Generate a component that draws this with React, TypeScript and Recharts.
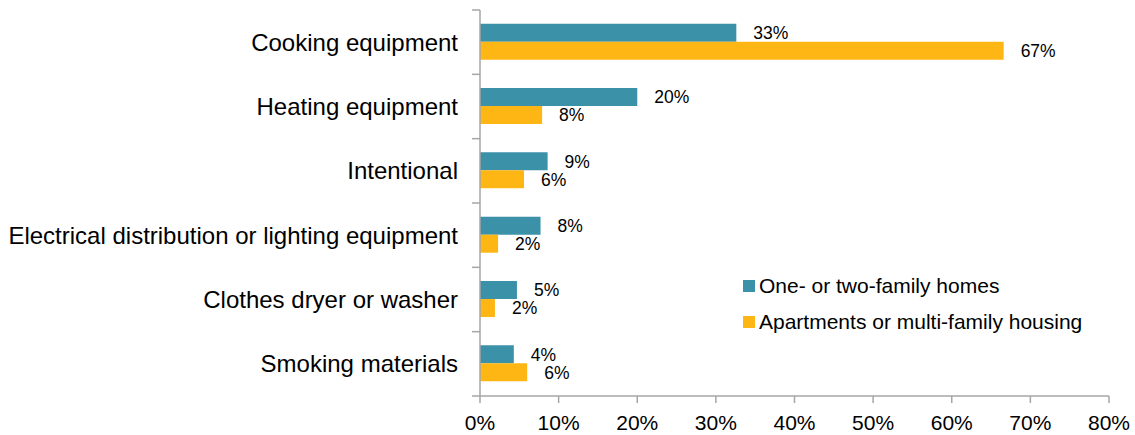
import React from 'react';
import { BarChart, Bar, XAxis, YAxis, Legend, LabelList } from 'recharts';

const categories = [
  'Cooking equipment',
  'Heating equipment',
  'Intentional',
  'Electrical distribution or lighting equipment',
  'Clothes dryer or washer',
  'Smoking materials',
];
const oneTwoFamily = [32.6, 20.0, 8.6, 7.7, 4.7, 4.3];
const apartments = [66.6, 7.9, 5.6, 2.3, 1.9, 6.0];
const xTicks = [0, 10, 20, 30, 40, 50, 60, 70, 80];

const TEAL = '#3b91a7';
const ORANGE = '#fdb614';
const AXIS = '#a6a6a6';
const FONT = '"Liberation Sans", Arial, sans-serif';

const WIDTH = 1135;
const HEIGHT = 435;
const MARGIN = { top: 10, right: 26, bottom: 9, left: 0 };
const X_AXIS_H = 30;
const Y_AXIS_W = 480;
const BAND = (HEIGHT - MARGIN.top - MARGIN.bottom - X_AXIS_H) / categories.length;
const TICK_GAP = 22;

const data = categories.map((name, i) => ({
  name,
  homes: oneTwoFamily[i],
  apartments: apartments[i],
}));

const series = [
  { key: 'homes', label: 'One- or two-family homes', color: TEAL },
  { key: 'apartments', label: 'Apartments or multi-family housing', color: ORANGE },
];

// category label at the band centre, tick marks at the band edges
const CategoryTick = (props: any) => {
  const { x, y, payload, index } = props;
  const ax = x + TICK_GAP;
  return (
    <g>
      <text x={x} y={y} dy="0.36em" textAnchor="end" fontSize={24} fill="#000" fontFamily={FONT}>
        {payload.value}
      </text>
      <line x1={ax - 8} x2={ax} y1={y - BAND / 2} y2={y - BAND / 2} stroke={AXIS} strokeWidth={1.5} />
      {index === categories.length - 1 && (
        <line x1={ax - 8} x2={ax} y1={y + BAND / 2} y2={y + BAND / 2} stroke={AXIS} strokeWidth={1.5} />
      )}
    </g>
  );
};

const LegendBox = () => (
  <div style={{ fontFamily: FONT, fontSize: 21, color: '#000' }}>
    {series.map((s) => (
      <div key={s.key} style={{ display: 'flex', alignItems: 'center', height: 36 }}>
        <div style={{ width: 12, height: 12, background: s.color, marginRight: 4 }} />
        <span>{s.label}</span>
      </div>
    ))}
  </div>
);

export default function App() {
  return (
    <div style={{ position: 'absolute', left: 0, top: 0, width: WIDTH, height: HEIGHT, background: '#fff' }}>
      <BarChart
        width={WIDTH}
        height={HEIGHT}
        data={data}
        layout="vertical"
        margin={MARGIN}
        barCategoryGap="21.3%"
        barGap={0}
      >
        <XAxis
          type="number"
          domain={[0, 80]}
          ticks={xTicks}
          tickFormatter={(v) => `${v}%`}
          height={X_AXIS_H}
          stroke={AXIS}
          strokeWidth={1.5}
          tickSize={7}
          tickMargin={12}
          tick={{ fill: '#000', fontSize: 21, fontFamily: FONT }}
          interval={0}
        />
        <YAxis
          type="category"
          dataKey="name"
          width={Y_AXIS_W}
          stroke={AXIS}
          strokeWidth={1.5}
          tickLine={false}
          tickSize={0}
          tickMargin={TICK_GAP}
          tick={<CategoryTick />}
          interval={0}
        />
        <Legend
          layout="horizontal"
          verticalAlign="middle"
          align="center"
          wrapperStyle={{ left: 743, top: 268, width: 'auto' }}
          content={<LegendBox />}
        />
        {series.map((s) => (
          <Bar key={s.key} dataKey={s.key} fill={s.color} isAnimationActive={false}>
            <LabelList
              dataKey={s.key}
              position="right"
              offset={17}
              formatter={(v: any) => `${Math.round(Number(v))}%`}
              style={{ fill: '#000', fontSize: 17.5, fontFamily: FONT }}
            />
          </Bar>
        ))}
      </BarChart>
    </div>
  );
}
